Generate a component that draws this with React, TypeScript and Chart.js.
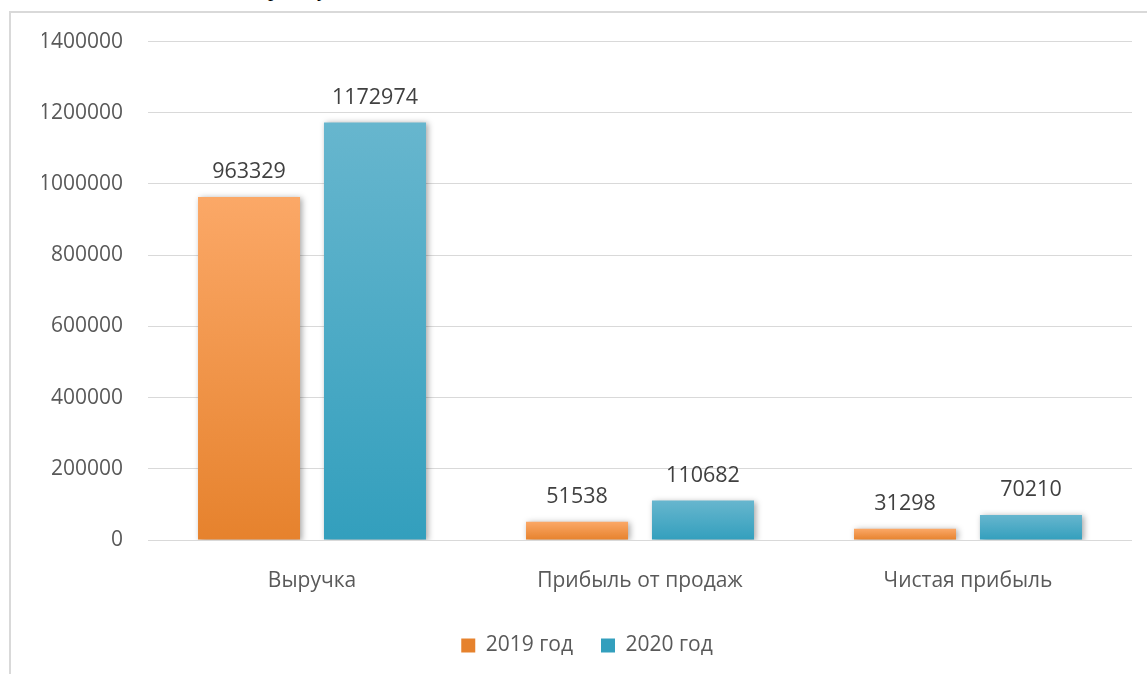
import React, { useEffect, useRef } from "react";
import { Chart, registerables } from "chart.js";

Chart.register(...registerables);

const categories = ["Выручка", "Прибыль от продаж", "Чистая прибыль"];
const series2019 = [963329, 51538, 31298];
const series2020 = [1172974, 110682, 70210];
const seriesLabels = ["2019 год", "2020 год"];
const yTicks = [0, 200000, 400000, 600000, 800000, 1000000, 1200000, 1400000];

const FONT = "'Open Sans', 'Noto Sans', sans-serif";

function gradientFill(top: string, bottom: string, mid: string) {
  return (ctx: any) => {
    if (ctx.type !== "data") return mid;
    const chart = ctx.chart;
    const y = chart.scales && chart.scales.y;
    if (!y || !chart.chartArea) return mid;
    const v = ctx.parsed ? ctx.parsed.y : ctx.raw;
    const yTop = y.getPixelForValue(v);
    const yBot = y.getPixelForValue(0);
    if (!isFinite(yTop) || !isFinite(yBot) || yBot - yTop < 1) return mid;
    const g = chart.ctx.createLinearGradient(0, yTop, 0, yBot);
    g.addColorStop(0, top);
    g.addColorStop(1, bottom);
    return g;
  };
}

const shadowAndLabels = {
  id: "shadowAndLabels",
  beforeDatasetsDraw(chart: any) {
    const c = chart.ctx;
    c.save();
    c.shadowColor = "rgba(0,0,0,0.35)";
    c.shadowBlur = 6;
    c.shadowOffsetX = 2;
    c.shadowOffsetY = 1;
  },
  afterDatasetsDraw(chart: any) {
    const c = chart.ctx;
    c.restore();
    c.save();
    c.font = `21.5px ${FONT}`;
    c.fillStyle = "#404040";
    c.textAlign = "center";
    c.textBaseline = "middle";
    chart.data.datasets.forEach((ds: any, di: number) => {
      const meta = chart.getDatasetMeta(di);
      meta.data.forEach((bar: any, i: number) => {
        c.fillText(String(ds.data[i]), bar.x, bar.y - 25);
      });
    });
    c.restore();
  },
};

function BarChart() {
  const ref = useRef<HTMLCanvasElement | null>(null);
  useEffect(() => {
    if (!ref.current) return;
    const chart = new Chart(ref.current, {
      type: "bar",
      data: {
        labels: categories,
        datasets: [
          {
            label: seriesLabels[0],
            data: series2019,
            backgroundColor: gradientFill("#FBA867", "#E6822D", "#F79646"),
            categoryPercentage: 0.768,
            barPercentage: 0.81,
          },
          {
            label: seriesLabels[1],
            data: series2020,
            backgroundColor: gradientFill("#67B6CE", "#339FBD", "#4BACC6"),
            categoryPercentage: 0.768,
            barPercentage: 0.81,
          },
        ],
      },
      options: {
        animation: false,
        responsive: false,
        maintainAspectRatio: false,
        layout: { padding: { top: 20, right: 15, bottom: 8, left: 31 } },
        plugins: {
          tooltip: { enabled: false },
          legend: {
            position: "bottom",
            labels: {
              font: { family: FONT, size: 21 },
              color: "#595959",
              boxWidth: 14,
              boxHeight: 14,
              padding: 28,
            },
          },
        },
        scales: {
          x: {
            grid: { display: false },
            border: { display: false },
            ticks: {
              font: { family: FONT, size: 21 },
              color: "#595959",
              padding: 20,
            },
            afterFit(scale: any) {
              scale.height = 67;
            },
          },
          y: {
            min: 0,
            max: 1400000,
            afterBuildTicks(scale: any) {
              scale.ticks = yTicks.map((v) => ({ value: v }));
            },
            grid: { color: "#d9d9d9", lineWidth: 1, drawTicks: false },
            border: { display: false },
            ticks: {
              font: { family: FONT, size: 21 },
              color: "#595959",
              padding: 25,
              callback: (v: any) => String(v),
            },
            afterFit(scale: any) {
              scale.width = 106;
            },
          },
        },
      },
      plugins: [shadowAndLabels],
    } as any);
    return () => chart.destroy();
  }, []);
  return (
    <canvas
      ref={ref}
      width={1136}
      height={670}
      style={{ position: "absolute", left: 11, top: 4, width: 1136, height: 670 }}
    />
  );
}

export default function App() {
  return (
    <div
      style={{
        position: "fixed",
        left: 0,
        top: 0,
        width: 1147,
        height: 674,
        overflow: "hidden",
        background: "#fff",
      }}
    >
      <span
        style={{
          position: "absolute",
          left: 268,
          top: -23,
          fontFamily: "'Liberation Serif', serif",
          fontSize: 21,
          color: "#000",
        }}
      >
        р
      </span>
      <span
        style={{
          position: "absolute",
          left: 317,
          top: -23,
          fontFamily: "'Liberation Serif', serif",
          fontSize: 21,
          color: "#000",
        }}
      >
        у
      </span>
      <div
        style={{
          position: "absolute",
          left: 9,
          top: 11,
          width: 1150,
          height: 700,
          borderLeft: "2px solid #d9d9d9",
          borderTop: "2px solid #d9d9d9",
          boxSizing: "border-box",
        }}
      />
      <BarChart />
    </div>
  );
}
